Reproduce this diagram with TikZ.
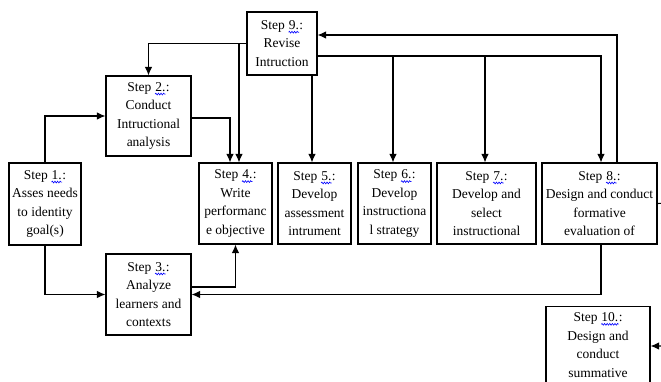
\documentclass[tikz,border=0pt]{standalone}
\usepackage{fontspec}
\setmainfont{Liberation Serif}
\usetikzlibrary{arrows.meta, decorations.pathmorphing}

\newcommand{\sq}[1]{\tikz[baseline=(w.base)]{\node[draw=none, inner sep=0pt, minimum width=0pt, minimum height=0pt, anchor=base] (w) {#1};
  \draw[blue, line width=0.6pt, decorate, decoration={snake, amplitude=0.9pt, segment length=2.6pt}]
    ([yshift=-2.8pt]w.base west) -- ([yshift=-2.8pt]w.base east);}}

\begin{document}
\begin{tikzpicture}[x=1pt, y=1pt,
    stepbox/.style={draw, line width=1.1pt, align=center, inner sep=0pt,
      font=\fontsize{13.5}{18.5}\selectfont},
    arr/.style={line width=1.1pt, -{Latex[length=8.5pt, width=7.5pt]}}]
  \useasboundingbox (0,0) rectangle (661,381);

  \node[stepbox, minimum width=70pt, minimum height=63pt] (s9) at (282,337.5) {Step \sq{9.}:\\Revise\\Intruction};
  \node[stepbox, minimum width=85pt, minimum height=80pt] (s2) at (148.5,265) {Step \sq{2.}:\\Conduct\\Intructional\\analysis};
  \node[stepbox, minimum width=72pt, minimum height=82pt] (s1) at (45,177) {Step \sq{1.}:\\Asses needs\\to identity\\goal(s)};
  \node[stepbox, minimum width=73pt, minimum height=81pt] (s4) at (235.5,177.5) {Step \sq{4.}:\\Write\\performanc\\e objective};
  \node[stepbox, minimum width=73pt, minimum height=81pt] (s5) at (314.5,177.5) {Step \sq{5.}:\\Develop\\assessment\\intrument};
  \node[stepbox, minimum width=73pt, minimum height=81pt] (s6) at (394.5,177.5) {Step \sq{6.}:\\Develop\\instructiona\\l strategy};
  \node[stepbox, minimum width=99pt, minimum height=81pt] (s7) at (486.5,177.5) {Step \sq{7.}:\\Develop and\\select\\instructional};
  \node[stepbox, minimum width=115pt, minimum height=81pt] (s8) at (599.5,177.5) {Step \sq{8.}:\\Design and conduct\\formative\\evaluation of};
  \node[stepbox, minimum width=85pt, minimum height=81pt] (s3) at (148.5,86.5) {Step \sq{3.}:\\Analyze\\learners and\\contexts};
  \node[stepbox, minimum width=104pt, inner ysep=6pt, anchor=north] (s10) at (598,75) {Step \sq{10.}:\\Design and\\conduct\\summative\\[30pt]\mbox{}};

  \coordinate (trunk) at ([yshift=-12.5pt]s9.east);
  \coordinate (rim) at (668,178);

  \draw[arr] (s1.north) |- (s2.west);
  \draw[arr] (s1.south) |- (s3.west);
  \draw[arr] ([yshift=-2pt]s2.east) -| ([xshift=-5.5pt]s4.north);
  \draw[arr] (s9.west) -| (s2.north);
  \draw[arr] ([xshift=3.5pt]s4.north |- s9.west) -- ([xshift=3.5pt]s4.north);
  \draw[arr] ([xshift=-2.5pt]s5.north |- s9.south) -- ([xshift=-2.5pt]s5.north);
  \draw[arr] (trunk) -| ([xshift=1.5pt]s8.north);
  \draw[arr] ([xshift=-1.5pt]s6.north |- trunk) -- ([xshift=-1.5pt]s6.north);
  \draw[arr] ([xshift=-1.5pt]s7.north |- trunk) -- ([xshift=-1.5pt]s7.north);
  \draw[arr] ([xshift=17.5pt]s8.north) |- ([yshift=8.5pt]s9.east);
  \draw[arr] ([yshift=7.5pt]s3.east) -| (s4.south);
  \draw[arr] ([xshift=1.5pt]s8.south) |- (s3.east);
  \draw[arr] (s8.east) -- (rim) |- ([yshift=-40pt]s10.north east);
\end{tikzpicture}
\end{document}
